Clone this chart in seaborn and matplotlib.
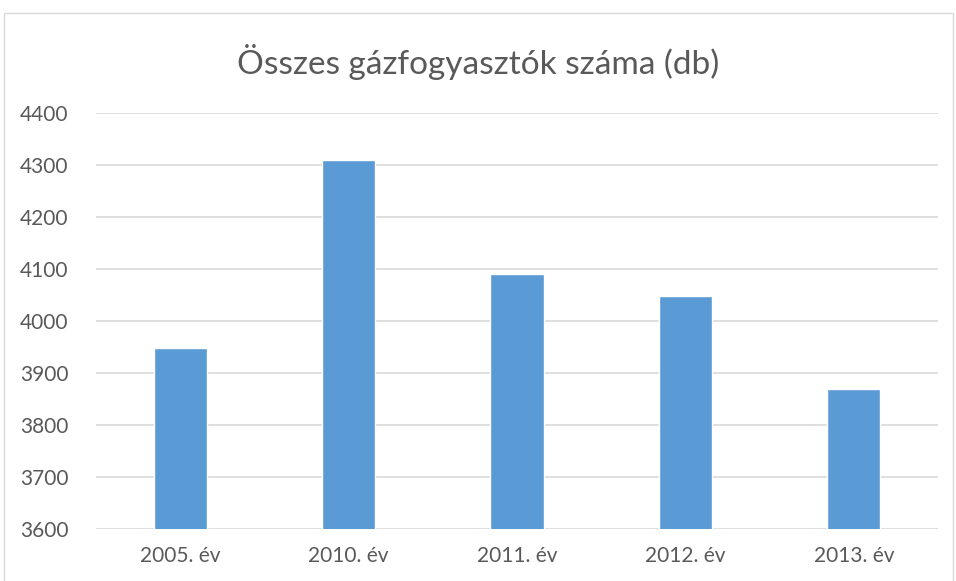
import matplotlib
matplotlib.use("Agg")
import matplotlib.pyplot as plt
import seaborn as sns
import pandas as pd
from matplotlib.patches import Rectangle

categories = ["2005. év", "2010. év", "2011. év", "2012. év", "2013. év"]
values = [3948, 4309, 4091, 4048, 3869]
yticks = [3600, 3700, 3800, 3900, 4000, 4100, 4200, 4300, 4400]

sns.set_theme(style="white")
plt.rcParams['font.family'] = ['Lato', 'DejaVu Sans']

fig = plt.figure(figsize=(9.56, 5.81), dpi=100)
L, R, T, B = 96, 938, 113, 529
ax = fig.add_axes([L/956, 1-B/581, (R-L)/956, (B-T)/581])

df = pd.DataFrame({"cat": categories, "val": values})
sns.barplot(data=df, x="cat", y="val", color="#5B9BD5", saturation=1, width=0.315, ax=ax, zorder=3)

ax.set_ylim(3600, 4400)
ax.set_yticks(yticks)
ax.set_xlim(-0.5, 4.5)
ax.yaxis.grid(True, color="#D9D9D9", linewidth=1.2, zorder=0)
ax.set_axisbelow(True)
for s in ax.spines.values():
    s.set_visible(False)
ax.set_xlabel("")
ax.set_ylabel("")
ax.tick_params(axis="both", length=0, labelsize=15, labelcolor="#595959")
ax.tick_params(axis="x", pad=12)
ax.tick_params(axis="y", pad=20)

fig.text(0.5, 1-62/581, "Összes gázfogyasztók száma (db)", ha="center", va="center",
         fontsize=24, color="#595959", fontweight="normal")

fig.patches.append(Rectangle((4/956, -0.05), (953-4)/956, 1-13/581+0.05, transform=fig.transFigure,
                             fill=False, edgecolor="#D9D9D9", linewidth=1))

fig.savefig("out.png", dpi=100)
